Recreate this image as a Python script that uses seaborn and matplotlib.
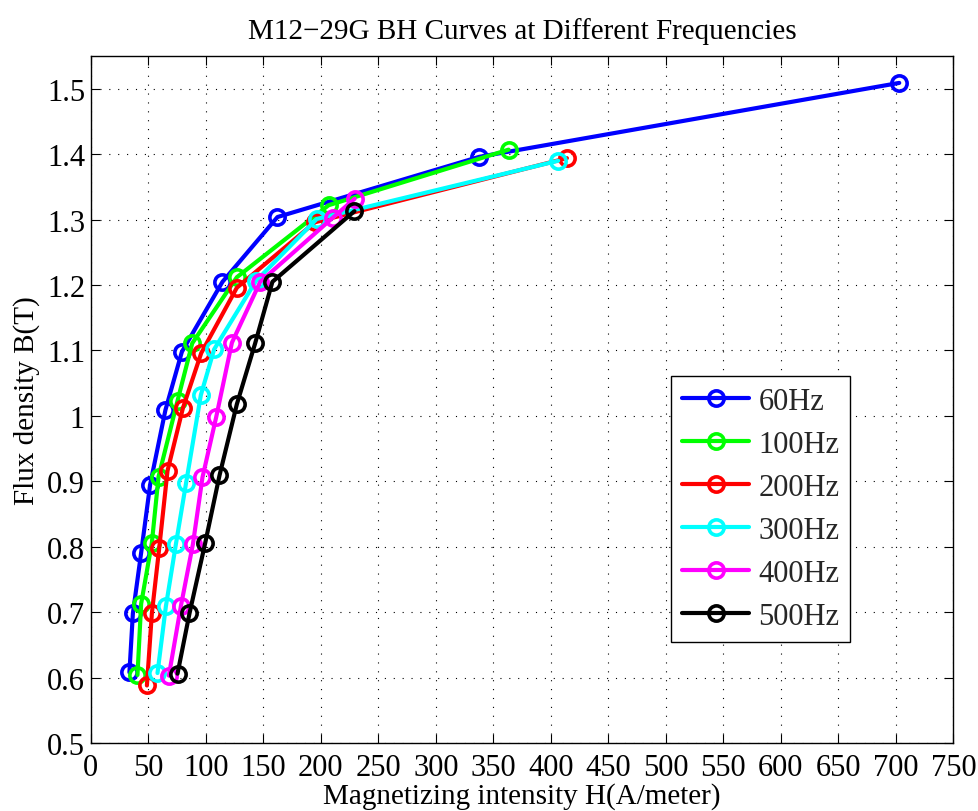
import matplotlib
matplotlib.use("Agg")
import matplotlib.pyplot as plt
import seaborn as sns
import pandas as pd

sns.set_theme(style="white")
plt.rcParams['font.family'] = ['Liberation Serif', 'DejaVu Serif']

labels = ["60Hz", "100Hz", "200Hz", "300Hz", "400Hz", "500Hz"]
colors = ["#0000ff", "#00ff00", "#ff0000", "#00ffff", "#ff00ff", "#000000"]

h_60 = [33.7, 36.7, 43.9, 51.7, 65.0, 79.3, 114.6, 162.4, 337.8, 702.9]
b_60 = [0.608, 0.698, 0.791, 0.895, 1.009, 1.098, 1.205, 1.304, 1.396, 1.509]
h_100 = [40.7, 43.9, 53.2, 59.0, 75.5, 88.3, 127.1, 206.8, 363.3]
b_100 = [0.604, 0.713, 0.806, 0.907, 1.023, 1.111, 1.212, 1.322, 1.407]
h_200 = [48.9, 53.2, 59.6, 66.8, 80.2, 96.1, 127.1, 195.0, 414.0]
b_200 = [0.588, 0.698, 0.798, 0.916, 1.012, 1.096, 1.196, 1.296, 1.394]
h_300 = [58.1, 65.4, 74.1, 83.0, 95.8, 107.4, 143.6, 196.5, 406.4]
b_300 = [0.607, 0.709, 0.804, 0.898, 1.032, 1.102, 1.206, 1.301, 1.390]
h_400 = [68.0, 78.4, 88.9, 97.2, 109.1, 122.8, 147.4, 210.5, 229.5]
b_400 = [0.603, 0.709, 0.804, 0.906, 0.998, 1.112, 1.205, 1.303, 1.332]
h_500 = [75.5, 85.9, 99.6, 112.0, 127.1, 143.0, 158.0, 229.3]
b_500 = [0.606, 0.698, 0.806, 0.909, 1.018, 1.111, 1.205, 1.313]

H = [h_60, h_100, h_200, h_300, h_400, h_500]
B = [b_60, b_100, b_200, b_300, b_400, b_500]

fig = plt.figure(figsize=(9.79, 8.12), dpi=100)
ax = fig.add_axes([0.0926, 0.0837, 0.8813, 0.846])

for lab, col, hs, bs in zip(labels, colors, H, B):
    df = pd.DataFrame({"H": hs, "B": bs})
    sns.lineplot(data=df, x="H", y="B", ax=ax, color=col, sort=False,
                 linewidth=3, marker="o", markersize=11,
                 markerfacecolor="none", markeredgecolor=col,
                 markeredgewidth=2.6, label=lab)

ax.set_xlim(0, 750)
ax.set_ylim(0.5, 1.55)
ax.set_xticks(range(0, 751, 50))
ax.set_yticks([0.5, 0.6, 0.7, 0.8, 0.9, 1.0, 1.1, 1.2, 1.3, 1.4, 1.5])
ax.set_yticklabels(["0.5", "0.6", "0.7", "0.8", "0.9", "1", "1.1", "1.2", "1.3", "1.4", "1.5"])
ax.tick_params(direction="in", length=6.5, width=0.8, labelsize=22, colors="black",
               top=True, right=True, bottom=True, left=True)
ax.tick_params(axis="x", pad=7)
ax.tick_params(axis="y", pad=4)
ax.grid(True, linestyle=(0, (1, 7)), color="black", linewidth=0.8)
for s in ax.spines.values():
    s.set_color("black")
    s.set_linewidth(1.0)

ax.set_xlabel("Magnetizing intensity H(A/meter)", fontsize=21, color="black", labelpad=0)
ax.set_ylabel("Flux density B(T)", fontsize=21, color="black", labelpad=5)
ax.set_title("M12\u221229G BH Curves at Different Frequencies", fontsize=21, color="black", pad=13)

leg = ax.legend(loc="lower left", bbox_to_anchor=(0.6726, 0.147), fontsize=22,
                frameon=True, fancybox=False, edgecolor="black", framealpha=1,
                handlelength=2.2, labelspacing=0.46, borderpad=0.36, handletextpad=0.3,
                borderaxespad=0)
leg.get_frame().set_linewidth(1.0)

fig.savefig("out.png", dpi=100)
